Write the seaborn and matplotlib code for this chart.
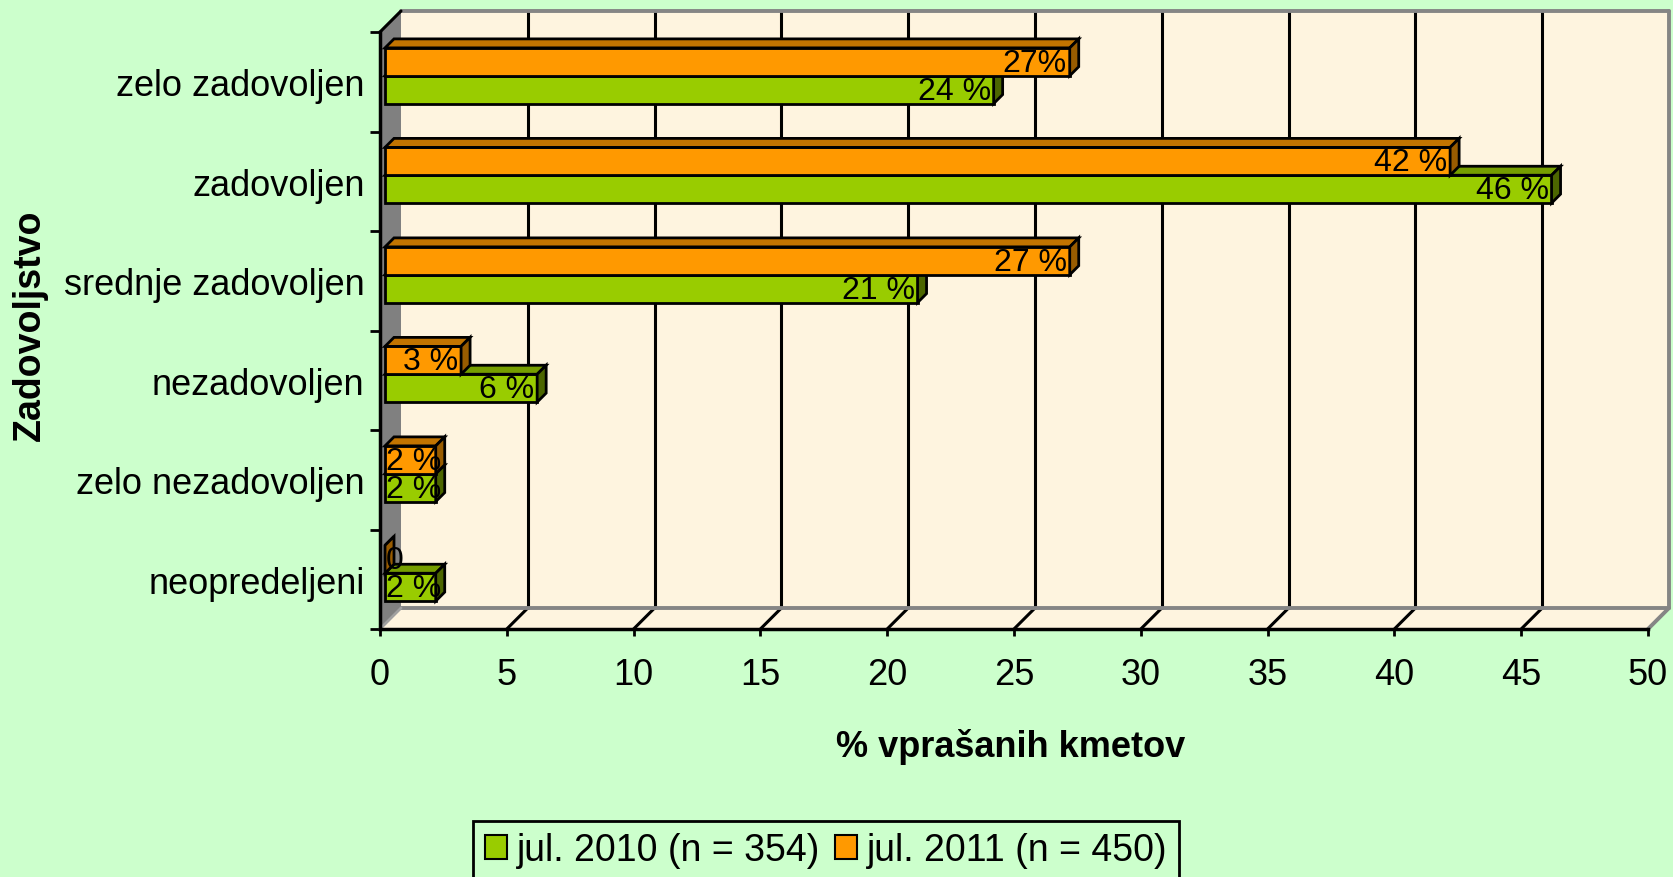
import matplotlib
matplotlib.use("Agg")
import matplotlib.pyplot as plt
import pandas as pd
import seaborn as sns
from matplotlib.patches import Polygon, Rectangle, Patch

categories = ["zelo zadovoljen", "zadovoljen", "srednje zadovoljen",
              "nezadovoljen", "zelo nezadovoljen", "neopredeljeni"]
jul_2010 = [24, 46, 21, 6, 2, 2]
jul_2011 = [27, 42, 27, 3, 2, 0]
labels_2010 = ["24 %", "46 %", "21 %", "6 %", "2 %", "2 %"]
labels_2011 = ["27%", "42 %", "27 %", "3 %", "2 %", "0"]
series = ["jul. 2010 (n = 354)", "jul. 2011 (n = 450)"]
x_ticks = [0, 5, 10, 15, 20, 25, 30, 35, 40, 45, 50]

GREEN, ORANGE = "#99CC00", "#FF9900"
SIDE = {GREEN: "#4C6600", ORANGE: "#995C00"}
TOP = {GREEN: "#769E00", ORANGE: "#C27400"}
BG = "#CCFFCC"
WALL = "#FEF4DF"

# figure geometry in pixels
W, H, DPI = 1673, 878, 100
L, R, T, B = 380, 1648, 33, 630
DEPTH = 21          # wall depth
BAR_SHIFT = (5, 6)  # bar front face offset
BAR_DEPTH = 9

df = pd.DataFrame({
    "cat": categories * 2,
    "pct": jul_2010 + jul_2011,
    "series": [series[0]] * 6 + [series[1]] * 6,
})

sns.set_style("white")
plt.rcParams["font.family"] = ["Liberation Sans", "DejaVu Sans"]
plt.rcParams["text.color"] = "black"
plt.rcParams["xtick.color"] = "black"
plt.rcParams["ytick.color"] = "black"

fig = plt.figure(figsize=(W / DPI, H / DPI), dpi=DPI)
fig.patch.set_facecolor(BG)
ax = fig.add_axes([L / W, 1 - B / H, (R - L) / W, (B - T) / H])
ax.patch.set_visible(False)

sns.barplot(data=df, x="pct", y="cat", hue="series", order=categories,
            hue_order=[series[1], series[0]],
            palette={series[0]: GREEN, series[1]: ORANGE},
            width=0.56, saturation=1, errorbar=None, orient="h",
            edgecolor="black", linewidth=2, legend=False, ax=ax)
bars = list(ax.patches)

ax.set_xlim(0, 50)
ax.set_ylim(5.5, -0.5)

ux = 50 / (R - L)   # data per pixel
uy = 6 / (B - T)


def dx(px):
    return px * ux


def dy(px):
    return px * uy


dX, dY = dx(DEPTH), dy(DEPTH)

# back wall, side wall, floor
ax.add_patch(Rectangle((dX, -0.5 - dY), 50, 6, facecolor=WALL, edgecolor="none",
                       zorder=0.1, clip_on=False))
ax.add_patch(Polygon([(0, -0.5), (0, 5.5), (dX, 5.5 - dY), (dX, -0.5 - dY)],
                     facecolor="#808080", edgecolor="none", zorder=0.3, clip_on=False))
ax.add_patch(Polygon([(0, 5.5), (50, 5.5), (50 + dX, 5.5 - dY), (dX, 5.5 - dY)],
                     facecolor=WALL, edgecolor="none", zorder=0.3, clip_on=False))
for x in x_ticks[1:-1]:
    ax.plot([x + dX] * 2, [-0.5 - dY, 5.5 - dY], color="black", lw=2.2,
            zorder=0.5, clip_on=False)
    ax.plot([x, x + dX], [5.5, 5.5 - dY], color="black", lw=2.2,
            zorder=0.5, clip_on=False)
edge = dict(color="#858585", lw=2.8, zorder=0.6, clip_on=False)
ax.plot([dX, 50 + dX], [-0.5 - dY] * 2, **edge)
ax.plot([50 + dX] * 2, [-0.5 - dY, 5.5 - dY], **edge)
ax.plot([dX, 50 + dX], [5.5 - dY] * 2, **edge)
ax.plot([50, 50 + dX], [5.5, 5.5 - dY], **edge)
ax.plot([0, dX], [5.5, 5.5 - dY], color="#A0A0A0", lw=2, zorder=0.6, clip_on=False)
ax.plot([0, dX], [-0.5, -0.5 - dY], color="black", lw=2.2, zorder=0.6, clip_on=False)

# 3D bars
sx, sy = dx(BAR_SHIFT[0]), dy(BAR_SHIFT[1])
bx, by = dx(BAR_DEPTH), dy(BAR_DEPTH)
fig.canvas.draw()
renderer = fig.canvas.get_renderer()
for p in bars:
    is_green = matplotlib.colors.to_hex(p.get_facecolor()) == GREEN.lower()
    key = GREEN if is_green else ORANGE
    z = 2.0 if is_green else 2.2
    x0 = p.get_x() + sx
    y0 = p.get_y() - sy
    w, h = p.get_width(), p.get_height()
    x1, y1 = x0 + w, y0 + h
    p.set_x(x0)
    p.set_y(y0)
    p.set_zorder(z)
    ax.add_patch(Polygon([(x0, y0), (x1, y0), (x1 + bx, y0 - by), (x0 + bx, y0 - by)],
                         facecolor=TOP[key], edgecolor="black", lw=2, zorder=z,
                         clip_on=False))
    ax.add_patch(Polygon([(x1, y0), (x1, y1), (x1 + bx, y1 - by), (x1 + bx, y0 - by)],
                         facecolor=SIDE[key], edgecolor="black", lw=2, zorder=z,
                         clip_on=False))

    yc = y0 + h / 2
    # green bars sit below the band centre, orange above
    cat_idx = int(round(yc + sy + (-h / 2 if is_green else h / 2)))
    lab = labels_2010[cat_idx] if is_green else labels_2011[cat_idx]
    t = ax.text(x1 - dx(3), yc + dy(1), lab, ha="right", va="center", fontsize=23,
                zorder=3, clip_on=False)
    tw = t.get_window_extent(renderer).width
    if tw > w / ux - 4:
        t.set_ha("left")
        t.set_x(x0 + dx(1))

# axes, ticks
for s in ["top", "right"]:
    ax.spines[s].set_visible(False)
for s in ["left", "bottom"]:
    ax.spines[s].set_linewidth(2.5)
    ax.spines[s].set_color("black")
    ax.spines[s].set_zorder(2.5)

ax.set_xticks(x_ticks)
ax.set_xticklabels([str(v) for v in x_ticks])
ax.set_yticks([i - 0.5 for i in range(7)])
ax.set_yticklabels([])
ax.set_yticks(range(6), minor=True)
ax.set_yticklabels(categories, minor=True)
ax.tick_params(axis="x", length=5, width=2, pad=15, labelsize=26,
               bottom=True, direction="out")
ax.tick_params(axis="y", which="major", length=7, width=2, left=True, direction="out")
ax.tick_params(axis="y", which="minor", length=0, pad=11, labelsize=26)
ax.set_xlabel("")
ax.set_ylabel("")

fig.text(1011 / W, 1 - 747 / H, "% vprašanih kmetov", ha="center", va="center",
         fontsize=26, fontweight="bold")
fig.text(30 / W, 1 - 325 / H, "Zadovoljstvo", ha="center", va="center",
         rotation=90, fontsize=27, fontweight="bold")

handles = [Patch(facecolor=GREEN, edgecolor="black", lw=1.5),
           Patch(facecolor=ORANGE, edgecolor="black", lw=1.5)]
leg = fig.legend(handles, series, loc="upper center",
                 bbox_to_anchor=(826 / W, 1 - 822 / H), ncol=2, frameon=True,
                 fancybox=False, edgecolor="black", facecolor=BG, framealpha=1,
                 prop=dict(family=["Liberation Sans Narrow", "Liberation Sans"], size=27),
                 handlelength=0.6, handleheight=0.6, handletextpad=0.25,
                 columnspacing=0.4, borderpad=0.3, borderaxespad=0)
leg.get_frame().set_linewidth(2)

fig.savefig("out.png", dpi=DPI, facecolor=BG)
